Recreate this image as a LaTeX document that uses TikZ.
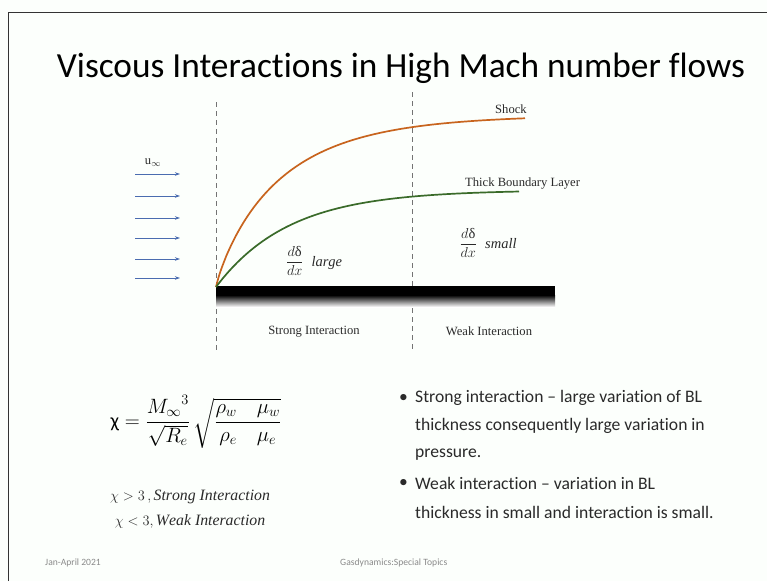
\documentclass[tikz,border=0pt]{standalone}
\usepackage{fontspec}
\usepackage{amsmath}
\setmainfont{Liberation Serif}
\newfontfamily\carl[Ligatures=NoCommon]{Carlito}
\usetikzlibrary{arrows.meta}
\definecolor{shockc}{HTML}{C8641E}
\definecolor{blc}{HTML}{3A6B2A}
\definecolor{arrc}{HTML}{4A6CB0}
\definecolor{txt}{HTML}{2A2A2A}
\definecolor{foot}{HTML}{8A8A8A}
\tikzset{
  divider/.style={dash pattern=on 5pt off 4pt, line width=0.8pt, black!55},
  flowarrow/.style={-{Stealth[length=5pt,width=3.5pt]}, arrc, line width=0.9pt},
  lbl/.style={font=\fontsize{12.6}{15}\selectfont, text=txt, inner sep=1pt},
  bul/.style={font=\carl\fontsize{17.6}{21}\selectfont, text=txt, anchor=west, inner sep=0pt},
  footlbl/.style={font=\carl\fontsize{9.6}{11}\selectfont, text=foot, inner sep=0pt}
}
\begin{document}
\begin{tikzpicture}[x=1pt,y=-1pt]
\useasboundingbox (0,0) rectangle (767,581);
\fill[white!99!green] (0,0) rectangle (767,581);
\draw[line width=1.2pt, black!80] (8.5,581) -- (8.5,12.5) -- (767,12.5);

% title
\node[font=\carl\fontsize{35.3}{42}\selectfont, text=black] (title) at (401,68) {Viscous Interactions in High Mach number flows};

% dividers
\coordinate (d1t) at (216,102); \coordinate (d1b) at (216,352);
\coordinate (d2t) at (412,92);  \coordinate (d2b) at (412,352);
\draw[divider] (d1t) -- (d1b);
\draw[divider] (d2t) -- (d2b);

% plate
\shade[top color=black, bottom color=white] (216,295) rectangle (555,307);
\fill[black] (216,286) rectangle (555,296);

% curves
\draw[shockc, line width=1.7pt, domain=0.01:309, samples=120, smooth] plot ({216+\x}, {287-172*(1-exp(-((\x/64.8)^0.88)))});
\draw[blc, line width=1.7pt, domain=0:303, samples=100, smooth] plot ({216+\x}, {287-97*(1-exp(-\x/73))});

% flow arrows
\foreach \yy [count=\i] in {174,196,218,238,259,278} {
  \coordinate (a\i) at (135,\yy); \coordinate (b\i) at (180,\yy);
  \draw[flowarrow] (a\i) -- (b\i);
}
\node[lbl] (uinf) at (153,163) {u$_\infty$};

% labels
\node[lbl, anchor=west] (shock) at (494,109) {Shock};
\node[lbl, anchor=west] (tbl) at (464,183) {Thick Boundary Layer};
\node[lbl] (strong) at (314,332) {Strong Interaction};
\node[lbl] (weak) at (489,331) {Weak Interaction};
\node[text=txt, font=\fontsize{14.5}{17}\selectfont] (large) at (314,261) {$\dfrac{d\text{δ}}{dx}\;\;\mathit{large}$};
\node[text=txt, font=\fontsize{14.5}{17}\selectfont] (small) at (488,243) {$\dfrac{d\text{δ}}{dx}\;\;\mathit{small}$};

% formula
\node[text=black, font=\fontsize{20}{24}\selectfont] (chi) at (196,422) {$\mbox{\carl χ} = \dfrac{{M_\infty}^3}{\sqrt{R_e}}\,\sqrt{\dfrac{\rho_w\quad\mu_w}{\rho_e\quad\mu_e}}$};
\node[text=txt, font=\fontsize{15.8}{18}\selectfont] (c1) at (190,497) {$\chi > 3\,,\mathit{Strong\ Interaction}$};
\node[text=txt, font=\fontsize{15.8}{18}\selectfont] (c2) at (190,521) {$\chi < 3,\mathit{Weak\ Interaction}$};

% bullets
\node[bul] (b1a) at (399,398) {•};
\node[bul] (l1) at (415,398) {Strong interaction – large variation of BL};
\node[bul] (l2) at (415,426) {thickness consequently large variation in};
\node[bul] (l3) at (415,455) {pressure.};
\node[bul] (b2a) at (399,483) {•};
\node[bul] (l4) at (415,483) {Weak interaction – variation in BL};
\node[bul] (l5) at (415,512) {thickness in small and interaction is small.};

% footer
\node[footlbl, anchor=west] (f1) at (45,563) {Jan-April 2021};
\node[footlbl, anchor=west] (f2) at (340,563) {Gasdynamics:Special Topics};
\end{tikzpicture}
\end{document}
